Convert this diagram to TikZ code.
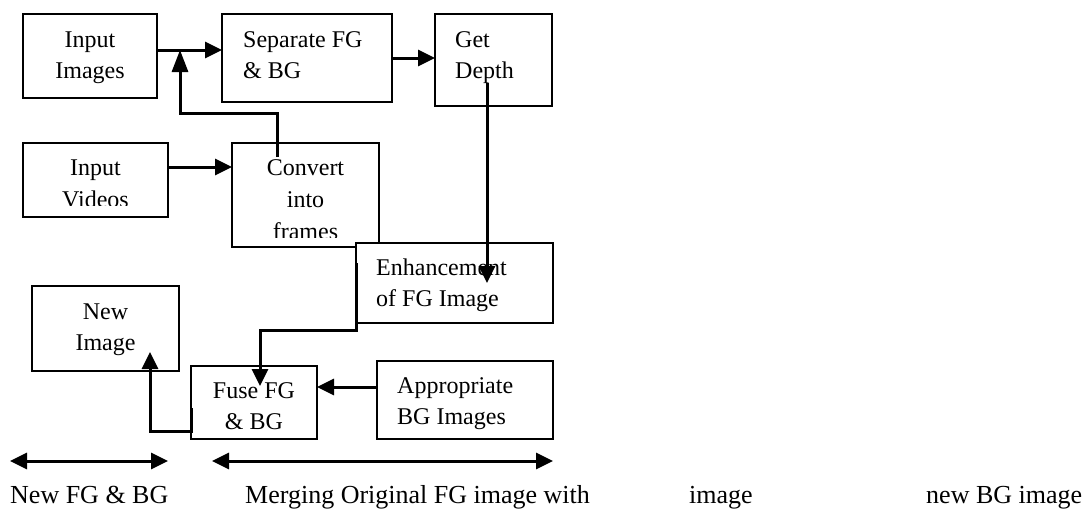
\documentclass[tikz,border=0pt]{standalone}
\usepackage{fontspec}
\setmainfont{Liberation Serif}
\usetikzlibrary{arrows.meta,calc}
\newcommand{\boxtxt}[2]{\fontsize{24}{31.5}\selectfont\begin{tabular}[t]{@{}#1@{}}#2\end{tabular}}
\newcommand{\convtxt}{\fontsize{24}{32}\selectfont\begin{tabular}[t]{@{}c@{}}Convert\\into\\frames\end{tabular}}
\tikzset{
  box/.style={draw, line width=2pt, fill=white, inner sep=0pt, outer sep=0pt, anchor=north west},
  txtc/.style={inner sep=0pt, anchor=base},
  txtl/.style={inner sep=0pt, anchor=base west},
  bottomtxt/.style={inner sep=0pt, anchor=base west, font=\fontsize{26}{30}\selectfont},
  arr/.style={line width=3pt, -{Triangle[length=17pt,width=16pt]}},
  arrlong/.style={line width=3pt, -{Triangle[length=22pt,width=16pt]}},
  darr/.style={line width=3pt, {Triangle[length=17pt,width=16pt]}-{Triangle[length=17pt,width=16pt]}}
}
\begin{document}
\begin{tikzpicture}[x=1pt,y=-1pt]
\useasboundingbox (0,0) rectangle (1089,509);
% boxes
\node[box,minimum width=134pt,minimum height=84pt] (inimg) at (23,14) {};
\node[box,minimum width=170pt,minimum height=88pt] (sep) at (222,14) {};
\node[box,minimum width=117pt,minimum height=92pt] (depth) at (435,14) {};
\node[box,minimum width=145pt,minimum height=74pt] (invid) at (23,143) {};
\node[box,minimum width=147pt,minimum height=104pt] (conv) at (232,143) {};
\node[box,minimum width=197pt,minimum height=80pt] (enh) at (356,243) {};
\node[box,minimum width=147pt,minimum height=85pt] (newimg) at (32,286) {};
\node[box,minimum width=126pt,minimum height=73pt] (fuse) at (191,366) {};
\node[box,minimum width=176pt,minimum height=78pt] (appr) at (377,361) {};
% box texts
\node[txtc] (t-inimg) at (90,47) {\boxtxt{c}{Input\\Images}};
\node[txtl] (t-sep) at (243,47) {\boxtxt{l}{Separate FG\\\& BG}};
\node[txtl] (t-depth) at (455,47) {\boxtxt{l}{Get\\Depth}};
\begin{scope}
  \clip (23,143) rectangle (168,205.5);
  \node[txtc] (t-invid) at (95.5,175.5) {\boxtxt{c}{Input\\Videos}};
\end{scope}
\begin{scope}
  \clip (232,143) rectangle (379,237.5);
  \node[txtc] (t-conv) at (305.5,175) {\convtxt};
\end{scope}
\node[txtl] (t-enh) at (376,275) {\boxtxt{l}{Enhancement\\of FG Image}};
\node[txtc] (t-newimg) at (105.5,319) {\boxtxt{c}{New\\Image}};
\node[txtc] (t-fuse) at (254,398) {\boxtxt{c}{Fuse FG\\\& BG}};
\node[txtl] (t-appr) at (397,393) {\boxtxt{l}{Appropriate\\BG Images}};
% connectors
\draw[arr] ($(inimg.east)+(0,-6)$) coordinate (a1) -- (sep.west |- a1);
\coordinate (c2) at ($(conv.north west)+(45,14)$);
\coordinate (j2) at (180,113);
\draw[arrlong] (c2) |- (j2) -- (j2 |- a1);
\draw[arr] (sep.east) -- (depth.west |- sep.east);
\coordinate (d4) at ($(depth.north west)+(52,69)$);
\coordinate (e4) at ($(enh.north west)+(0,40)$);
\draw[arr] (d4) -- (d4 |- e4);
\draw[arr] ($(invid.east)+(0,-13)$) coordinate (a5) -- (conv.west |- a5);
\coordinate (s6) at ($(enh.north west)+(0,20)$);
\coordinate (f6) at (260,330);
\draw[arr] (s6) |- (f6) -- ($(fuse.north west)+(69,20)$);
\draw[arr] ($(appr.west)+(0,-13)$) coordinate (a7) -- (fuse.east |- a7);
\coordinate (s8) at ($(fuse.north west)+(0,42)$);
\coordinate (t8) at ($(newimg.south west)+(118,-19)$);
\draw[arr] (s8) -- ++(0,23) -| (t8);
% range arrows
\coordinate (r1a) at (10,461);
\coordinate (r1b) at (168,461);
\coordinate (r2a) at (212,461);
\coordinate (r2b) at (553,461);
\draw[darr] (r1a) -- (r1b);
\draw[darr] (r2a) -- (r2b);
% bottom texts
\node[bottomtxt] (b1) at (10,503) {New FG \& BG};
\node[bottomtxt] (b2) at (245,503) {Merging Original FG image with};
\node[bottomtxt] (b3) at (689,503) {image};
\node[bottomtxt] (b4) at (926,503) {new BG image};
\end{tikzpicture}
\end{document}
